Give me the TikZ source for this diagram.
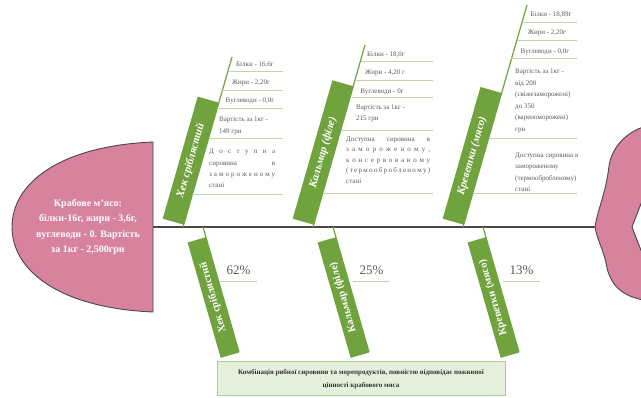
\documentclass[tikz,border=0pt]{standalone}
\usepackage{fontspec}
\setmainfont{Liberation Serif}
\definecolor{crabpink}{RGB}{215,131,158}
\definecolor{fishgreen}{RGB}{112,162,62}
\definecolor{rowline}{RGB}{196,212,168}
\definecolor{spinegray}{RGB}{72,72,72}
\definecolor{infogray}{RGB}{90,90,90}
\definecolor{resfill}{RGB}{228,240,219}
\definecolor{resdraw}{RGB}{170,208,140}
\newcommand{\spreadline}[2]{\makebox[#1][s]{#2}}

\begin{document}
\begin{tikzpicture}[x=1pt,y=1pt]
\tikzstyle{shapeline}=[draw=spinegray, line width=0.9pt, fill=crabpink]
\tikzstyle{bone}=[draw=fishgreen, line width=1.2pt]
\tikzstyle{upband}=[fill=fishgreen, text=white, font=\fontsize{11}{12}\selectfont\bfseries\itshape, minimum height=22pt, inner sep=0pt, rotate=74, anchor=south west]
\tikzstyle{downband}=[fill=fishgreen, text=white, font=\fontsize{10.5}{12}\selectfont\bfseries, minimum width=120pt, minimum height=19pt, inner sep=0pt, rotate=106, anchor=south east]
\tikzstyle{row}=[draw=rowline, line width=0.8pt]
\tikzstyle{info}=[text=infogray, font=\fontsize{7}{11.5}\selectfont, inner sep=0pt, align=left]
\tikzstyle{pct}=[text=infogray, font=\fontsize{13}{14}\selectfont, minimum width=37pt, text height=9pt, text depth=0pt, inner xsep=0pt, inner ysep=6.5pt]
\tikzstyle{resbox}=[draw=resdraw, line width=1pt, fill=resfill, minimum width=288pt, minimum height=34pt, align=center, font=\fontsize{7}{13}\selectfont\bfseries, text=black!80]

\useasboundingbox (0,0) rectangle (641,398);
\clip (0,0) rectangle (641,398);

% head and tail
\path[shapeline] (153,256) .. controls (60,252) and (12,215) .. (12,171) .. controls (12,127) and (60,90) .. (153,86) -- cycle;
\node[text=white, font=\fontsize{10}{15.5}\selectfont\bfseries, align=center] (head) at (88,171) {Крабове м'ясо:\\білки-16г, жири - 3,6г,\\вуглеводи - 0. Вартість\\за 1кг - 2,500грн};
\path[shapeline] (650,273) .. controls (628,268) and (612,252) .. (609,232) .. controls (606,205) and (598,190) .. (595,171) .. controls (598,155) and (604,148) .. (607,130) .. controls (612,110) and (625,100) .. (650,97) -- (650,140) -- (644,140) -- (632,171) -- (644,202) -- (650,202) -- cycle;

\coordinate (headR) at (153,171);
\coordinate (tailL) at (595,171);
\draw[spinegray, line width=1.8pt] (headR) -- (tailL);

% upper bones
\coordinate (h1) at (183,171);
\coordinate (h1t) at (232,341);
\coordinate (k1) at (313,171);
\coordinate (k1t) at (365,353);
\coordinate (r1) at (463,171);
\coordinate (r1t) at (527,393);
\draw[bone] (h1) -- (h1t);
\draw[bone] (k1) -- (k1t);
\draw[bone] (r1) -- (r1t);
\node[upband, minimum width=127pt] (hek) at (184,173) {Хек сріблястий};
\node[upband, minimum width=144pt] (kalmar) at (314,173) {Кальмар (філе)};
\node[upband, minimum width=137pt] (krev) at (464,173) {Креветки (мясо)};

\foreach \yy in {327,308,290,260,204}
  \draw[row] ({183+(\yy-171)*0.2867},\yy) -- (283,\yy);
\foreach \yy in {337,318,301,268,205}
  \draw[row] ({313+(\yy-171)*0.2867},\yy) -- (433,\yy);
\foreach \yy in {376,358,340,260,205}
  \draw[row] ({463+(\yy-171)*0.2867},\yy) -- (577,\yy);

\node[info] (hekA) at (255,333) {Білки - 16,6г};
\node[info] (hekB) at (251,315) {Жири - 2,20г};
\node[info] (hekC) at (250,297) {Вуглеводи - 0,0г};
\node[info, anchor=west] (hekD) at (219,272) {Вартість за 1кг -\\149 грн};
\node[info, anchor=west] (hekE) at (209,229.5) {\spreadline{66pt}{Д о с т у п н а}\\\spreadline{66pt}{сировина в}\\\spreadline{66pt}{з а м о р о ж е н о м у}\\стані};

\node[info] (kalA) at (386,343) {Білки - 18,0г};
\node[info] (kalB) at (385,325) {Жири - 4,20 г};
\node[info] (kalC) at (382,306) {Вуглеводи - 0г};
\node[info, anchor=west] (kalD) at (356,284.5) {Вартість за 1кг -\\215 грн};
\node[info, anchor=west, font=\fontsize{7}{10.5}\selectfont] (kalE) at (346,238) {\spreadline{84pt}{Доступна сировина в}\\\spreadline{84pt}{з а м о р о ж е н о м у ,}\\\spreadline{84pt}{к о н с е р в о в а н о м у}\\\spreadline{84pt}{( т е р м о о б р о б л е н о м у )}\\стані};

\node[info] (krA) at (551,383) {Білки - 18,89г};
\node[info] (krB) at (547,365) {Жири - 2,20г};
\node[info] (krC) at (545,346) {Вуглеводи - 0,0г};
\node[info, anchor=west] (krD) at (515,297) {Вартість за 1кг -\\від 200\\(свіжезаморожені)\\до 350\\(вареноморожені)\\грн};
\node[info, anchor=west] (krE) at (515,226) {Доступна сировина в\\замороженому\\(термообробленому)\\стані};

% lower bones
\coordinate (h2) at (203,171);
\coordinate (h2e) at (239,46);
\coordinate (k2) at (333,171);
\coordinate (k2e) at (369,46);
\coordinate (r2) at (483,171);
\coordinate (r2e) at (519,46);
\draw[bone] (h2) -- (h2e);
\draw[bone] (k2) -- (k2e);
\draw[bone] (r2) -- (r2e);
\node[downband] (hekL) at (206,161) {Хек сріблястий};
\node[downband] (kalmarL) at (336,161) {Кальмар (філе)};
\node[downband] (krevL) at (486,161) {Креветки (мясо)};

\node[pct] (pc1) at (238.5,128) {62\%};
\node[pct] (pc2) at (371.5,128) {25\%};
\node[pct] (pc3) at (521.5,128) {13\%};
\foreach \p in {pc1,pc2,pc3}
  \draw[row] (\p.south west) -- (\p.south east);

\node[resbox] (res) at (361,19) {Комбінація рибної сировини та морепродуктів, повністю відповідає поживної\\цінності крабового мяса};

\end{tikzpicture}
\end{document}
